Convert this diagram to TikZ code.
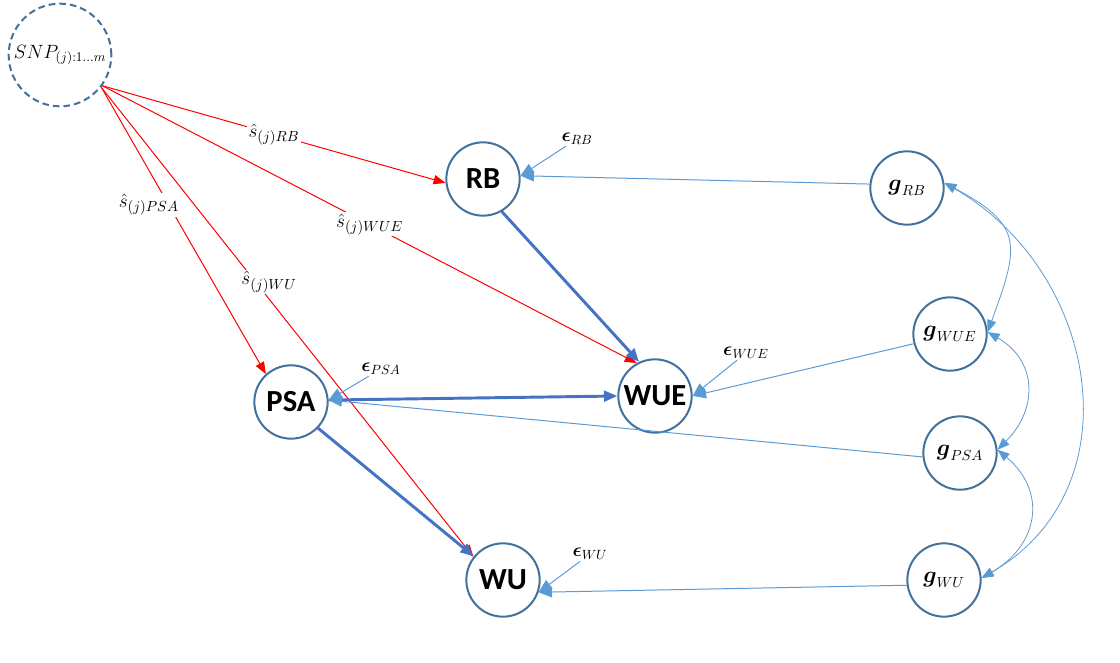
\documentclass[tikz,border=0pt]{standalone}
\usepackage{amsmath, amssymb}
\usepackage{xcolor}
\usepackage{fontspec}
\newfontfamily\traitfont{Carlito}
\usepackage{tikz}
\usetikzlibrary{
    arrows.meta
}
\definecolor{nodeline}{HTML}{41719C}
\definecolor{causalblue}{HTML}{4472C4}
\definecolor{residblue}{HTML}{5B9BD5}
\tikzset{
    trait/.style={circle, draw=nodeline, line width=1.5pt, minimum size=55pt, inner sep=0pt,
        font=\traitfont\fontsize{23}{28}\selectfont\bfseries},
    marker/.style={circle, draw=nodeline, line width=1.5pt, dashed, dash pattern=on 5pt off 3pt,
        minimum size=77pt, inner sep=0pt, font=\fontsize{14.5}{17}\selectfont},
    genetic/.style={circle, draw=nodeline, line width=1.5pt, minimum size=55pt, inner sep=0pt,
        font=\fontsize{16}{19}\selectfont},
    errlabel/.style={inner sep=1pt, font=\fontsize{14}{17}\selectfont},
    snpeff/.style={red, line width=0.75pt, -{Triangle[length=9pt,width=7pt]}},
    causal/.style={causalblue, line width=2.2pt, -{Triangle[length=10pt,width=8pt]}},
    resid/.style={residblue, line width=0.75pt, -{Triangle[length=10pt,width=8pt]}},
    covar/.style={residblue, line width=0.6pt, {Triangle[length=9pt,width=7pt]}-{Triangle[length=9pt,width=7pt]}},
    efflabel/.style={fill=white, text=black, inner sep=1pt, font=\fontsize{15}{18}\selectfont}
}

\begin{document}
\begin{tikzpicture}[x=0.75pt, y=-0.75pt]
        \useasboundingbox (0,0) rectangle (1120,663);
        % traits
        \draw (60,55) node[marker](snp){$SNP_{(j):1\ldots m}$};
        \draw (483,179) node[trait](rb){RB};
        \draw (655,396) node[trait](wue){WUE};
        \draw (291,402) node[trait](psa){PSA};
        \draw (503,580) node[trait](wu){WU};
        % genetic values
        \draw (907,188) node[genetic](grb){$\boldsymbol{g}_{RB}$};
        \draw (950,334) node[genetic](gwue){$\boldsymbol{g}_{WUE}$};
        \draw (960,453) node[genetic](gpsa){$\boldsymbol{g}_{PSA}$};
        \draw (944,580) node[genetic](gwu){$\boldsymbol{g}_{WU}$};
        % residuals
        \draw (577,139) node[errlabel](erb){$\boldsymbol{\epsilon}_{RB}$};
        \draw (746,353) node[errlabel](ewue){$\boldsymbol{\epsilon}_{WUE}$};
        \draw (381,369) node[errlabel](epsa){$\boldsymbol{\epsilon}_{PSA}$};
        \draw (590,554) node[errlabel](ewu){$\boldsymbol{\epsilon}_{WU}$};
        % marker effects
        \draw[snpeff] (snp.-36) to node[efflabel, pos=0.5]{$\hat{s}_{(j)RB}$} (rb.186);
        \draw[snpeff] (snp.-36) to node[efflabel, pos=0.5]{$\hat{s}_{(j)WUE}$} (wue.119);
        \draw[snpeff] (snp.-38) to node[efflabel, pos=0.41, xshift=-15pt]{$\hat{s}_{(j)PSA}$} (psa.132);
        \draw[snpeff] (snp.-38) to node[efflabel, pos=0.415, xshift=10pt]{$\hat{s}_{(j)WU}$} (wu.142);
        % trait to trait
        \draw[causal] (rb.-60) to (wue.115);
        \draw[causal] (psa.3) to (wue.180);
        \draw[causal] (psa.-44) to (wu.141);
        % genetic and residual inputs
        \draw[resid] (grb.174) to (rb.5);
        \draw[resid] (gwue.195) to (wue.0);
        \draw[resid] (gpsa.186) to (psa.3);
        \draw[resid] (gwu.188) to (wu.-19);
        \draw[resid] (erb) to (rb.5);
        \draw[resid] (ewue) to (wue.0);
        \draw[resid] (epsa) to (psa.3);
        \draw[resid] (ewu) to (wu.-19);
        % genetic covariances
        \draw[covar] (grb.8) to[out=-28, in=70, looseness=1.5] (gwue.3);
        \draw[covar] (gwue.3) to[out=-30, in=45, looseness=1.25] (gpsa.5);
        \draw[covar] (gpsa.5) to[out=-40, in=30, looseness=1.3] (gwu.3);
        \draw[covar] (grb.8) to[out=-30, in=30, looseness=1.15] (gwu.3);
    \end{tikzpicture}
\end{document}
